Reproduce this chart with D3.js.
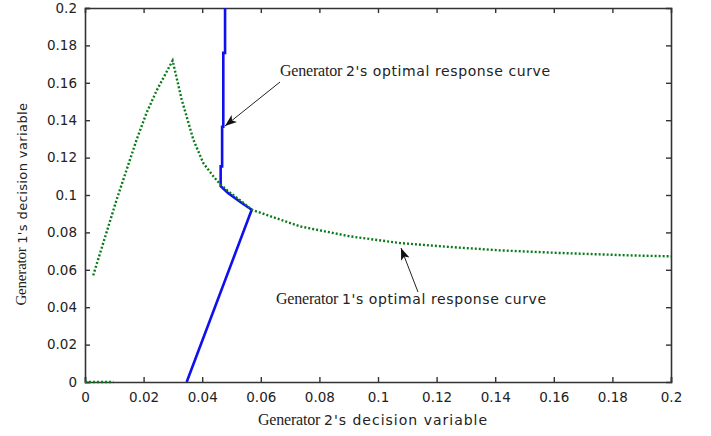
<!DOCTYPE html>
<html>
<head>
<meta charset="utf-8">
<script src="https://cdn.jsdelivr.net/npm/d3@7"></script>
<style>
  body { margin: 0; background: #fff; }
  .axis text { font-family: "DejaVu Sans", sans-serif; font-size: 13.5px; fill: #222; }
  .lbl { font-family: "DejaVu Sans", sans-serif; font-size: 14px; letter-spacing: 0.6px; fill: #222; }
  .gen { font-family: "Liberation Serif", serif; font-size: 16px; letter-spacing: -0.2px; }
  .xlbl { letter-spacing: 1px; }
  .ylbl { font-size: 13px; letter-spacing: 0.4px; }
  .ylbl .gen { font-size: 15px; }
</style>
</head>
<body>
<div class="chart"></div>
<script>
// Generator 2's optimal response curve (blue)
var g2X = [0.0478, 0.0478, 0.0472, 0.0472, 0.0468, 0.0468, 0.0463, 0.0463, 0.0489, 0.0535, 0.0569, 0.0347];
var g2Y = [0.2, 0.176, 0.176, 0.1365, 0.1365, 0.1153, 0.1153, 0.1047, 0.101, 0.0957, 0.0921, 0];

// Generator 1's optimal response curve (green dotted), null marks a gap
var g1X = [0, 0.0097, null, 0.0028, 0.0108, 0.0176, 0.021, 0.0245, 0.0299, 0.033, 0.037, 0.0404, 0.0438, 0.0461,
           0.0489, 0.0535, 0.0569, 0.0734, 0.0904, 0.1075, 0.1246, 0.1416, 0.162, 0.186, 0.2];
var g1Y = [0, 0, null, 0.057, 0.0975, 0.1295, 0.1439, 0.156, 0.1719, 0.151, 0.1295, 0.117, 0.110, 0.1058,
           0.102, 0.0965, 0.0921, 0.0832, 0.0779, 0.0743, 0.0722, 0.0704, 0.069, 0.0677, 0.0672];

var xTicks = [0, 0.02, 0.04, 0.06, 0.08, 0.1, 0.12, 0.14, 0.16, 0.18, 0.2];
var yTicks = [0, 0.02, 0.04, 0.06, 0.08, 0.1, 0.12, 0.14, 0.16, 0.18, 0.2];

const margin = ({top: 8, right: 40, bottom: 54, left: 85});
const width = 711 - margin.left - margin.right,
      height = 436 - margin.top - margin.bottom;

const xScale = d3.scaleLinear().domain([0, 0.2]).range([0, width]);
const yScale = d3.scaleLinear().domain([0, 0.2]).range([height, 0]);

var svg = d3.select('.chart').append('svg')
    .attr('width', 711).attr('height', 436)
    .append('g')
    .attr('transform', 'translate(' + margin.left + ',' + margin.top + ')');

var defs = svg.append('defs');
defs.append('marker')
    .attr('id', 'arr')
    .attr('viewBox', '0 -5 12 10')
    .attr('refX', 12).attr('refY', 0)
    .attr('markerWidth', 12).attr('markerHeight', 10)
    .attr('markerUnits', 'userSpaceOnUse')
    .attr('orient', 'auto')
    .append('path')
    .attr('d', 'M0,-4.5L12,0L0,4.5L3,0Z')
    .attr('fill', '#111');

// axes: labels on bottom/left, mirrored ticks on top/right, all ticks inward
const fmt = d => d === 0 ? '0' : String(+d.toFixed(2));
var xAxis = svg.append('g').attr('class', 'axis')
    .attr('transform', `translate(0,${height})`)
    .call(d3.axisBottom(xScale).tickValues(xTicks).tickSize(-5).tickPadding(10).tickFormat(fmt));
var yAxis = svg.append('g').attr('class', 'axis')
    .call(d3.axisLeft(yScale).tickValues(yTicks).tickSize(-5).tickPadding(8).tickFormat(fmt));
var xTop = svg.append('g').attr('class', 'axis')
    .call(d3.axisTop(xScale).tickValues(xTicks).tickSize(-5).tickFormat(''));
var yRight = svg.append('g').attr('class', 'axis')
    .attr('transform', `translate(${width},0)`)
    .call(d3.axisRight(yScale).tickValues(yTicks).tickSize(-5).tickFormat(''));
svg.selectAll('.axis path, .axis line').attr('stroke', '#333').attr('stroke-width', 1.4);
svg.selectAll('.axis .domain').attr('stroke-width', 1.6);
xTop.selectAll('.tick').filter(d => d === 0 || d === 0.2).remove();
yRight.selectAll('.tick').filter(d => d === 0 || d === 0.2).remove();

// curves
var line = d3.line()
    .defined(d => d[0] !== null)
    .x(d => xScale(d[0]))
    .y(d => yScale(d[1]));

svg.append('path')
    .datum(g2X.map((x, i) => [x, g2Y[i]]))
    .attr('d', line)
    .attr('fill', 'none')
    .attr('stroke', '#1010ee')
    .attr('stroke-width', 2.6);

svg.append('path')
    .datum(g1X.map((x, i) => [x, g1Y[i]]))
    .attr('d', line)
    .attr('fill', 'none')
    .attr('stroke', '#0a7a1a')
    .attr('stroke-width', 2.4)
    .attr('stroke-dasharray', '2,2');

// annotations
function note(tx, ty, words, ax1, ay1, ax2, ay2) {
    var t = svg.append('text').attr('class', 'lbl')
        .attr('x', tx - margin.left).attr('y', ty - margin.top)
        .attr('dominant-baseline', 'middle');
    t.append('tspan').attr('class', 'gen').text('Generator ');
    t.append('tspan').text(words);
    svg.append('line')
        .attr('x1', ax1 - margin.left).attr('y1', ay1 - margin.top)
        .attr('x2', ax2 - margin.left).attr('y2', ay2 - margin.top)
        .attr('stroke', '#222').attr('stroke-width', 1)
        .attr('marker-end', 'url(#arr)');
}
note(280, 72, "2's optimal response curve", 280, 82, 225, 126);
note(276, 300, "1's optimal response curve", 418, 292, 401, 248);

// axis titles
var xl = svg.append('text').attr('class', 'lbl xlbl')
    .attr('x', 258 - margin.left).attr('y', 421 - margin.top)
    .attr('dominant-baseline', 'middle');
xl.append('tspan').attr('class', 'gen').text('Generator ');
xl.append('tspan').text("2's decision variable");

var yl = svg.append('text').attr('class', 'lbl ylbl')
    .attr('transform', `translate(${23 - margin.left},${204 - margin.top}) rotate(-90)`)
    .attr('text-anchor', 'middle')
    .attr('dominant-baseline', 'middle');
yl.append('tspan').attr('class', 'gen').text('Generator ');
yl.append('tspan').text("1's decision variable");
</script>
</body>
</html>
